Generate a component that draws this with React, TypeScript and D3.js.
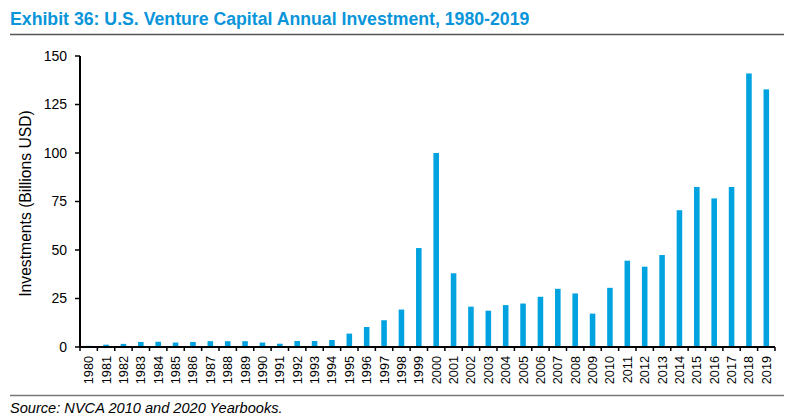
import React from "react";
import * as d3 from "d3";

const years: string[] = d3.range(1980, 2020).map(String);
const investments: number[] = [
  0.6, 1.2, 1.6, 2.6, 2.7, 2.3, 2.6, 3.0, 3.0, 3.0,
  2.3, 1.7, 3.1, 3.1, 3.6, 6.9, 10.3, 13.8, 19.3, 51.0,
  100.0, 38.0, 20.8, 18.7, 21.6, 22.4, 25.9, 30.0, 27.6, 17.2,
  30.5, 44.5, 41.4, 47.4, 70.5, 82.5, 76.6, 82.5, 141.0, 132.8,
];
const yTicks: number[] = [0, 25, 50, 75, 100, 125, 150];

const W = 786;
const H = 420;
const left = 80;
const right = 775;
const top = 56;
const bottom = 347;
const barColor = "#00A3E0";
const font = "'Liberation Sans', Arial, sans-serif";

export default function App() {
  const x = d3.scaleBand<string>().domain(years).range([left, right]).paddingInner(0.68).paddingOuter(0.34);
  const y = d3.scaleLinear().domain([0, 150]).range([bottom, top]);
  const step = x.step();
  const boundaries = d3.range(0, years.length + 1).map((i) => left + i * step);

  return (
    <svg width={W} height={H} style={{ position: "absolute", left: 0, top: 0 }} fontFamily={font}>
      <rect width={W} height={H} fill="#fff" />
      <text x={10} y={25} fontSize={17.7} fontWeight="bold" fill="#0A95DA">
        Exhibit 36: U.S. Venture Capital Annual Investment, 1980-2019
      </text>
      <line x1={10} x2={784} y1={34.5} y2={34.5} stroke="#555" strokeWidth={1.5} />

      {investments.map((v, i) => (
        <rect key={years[i]} x={x(years[i])} y={y(v)} width={x.bandwidth()} height={bottom - y(v)} fill={barColor} />
      ))}

      {/* y axis */}
      <line x1={left} x2={left} y1={top} y2={bottom + 1} stroke="#000" strokeWidth={2} />
      {yTicks.map((t) => (
        <g key={t}>
          <line x1={left - 5} x2={left} y1={y(t)} y2={y(t)} stroke="#000" strokeWidth={1.5} />
          <text x={left - 13} y={y(t)} dy="0.35em" textAnchor="end" fontSize={14} fill="#000">
            {t}
          </text>
        </g>
      ))}
      <text transform={`translate(25,${(110 + 297) / 2}) rotate(-90)`} textAnchor="middle" dy="0.35em" fontSize={15.7} fill="#000">
        Investments (Billions USD)
      </text>

      {/* x axis */}
      <line x1={left - 1} x2={right} y1={bottom} y2={bottom} stroke="#000" strokeWidth={2} />
      {boundaries.map((b, i) => (
        <line key={i} x1={b} x2={b} y1={bottom} y2={bottom + 4} stroke="#000" strokeWidth={1.5} />
      ))}
      {years.map((yr) => (
        <text
          key={yr}
          transform={`translate(${(x(yr) as number) + x.bandwidth() / 2},${bottom + 9}) rotate(-90)`}
          textAnchor="end"
          dy="0.35em"
          fontSize={12.7}
          fill="#000"
        >
          {yr}
        </text>
      ))}

      <line x1={10} x2={784} y1={395.5} y2={395.5} stroke="#777" strokeWidth={1.5} />
      <text x={10} y={413} fontSize={14.6} fontStyle="italic" fill="#000">
        Source: NVCA 2010 and 2020 Yearbooks.
      </text>
    </svg>
  );
}
